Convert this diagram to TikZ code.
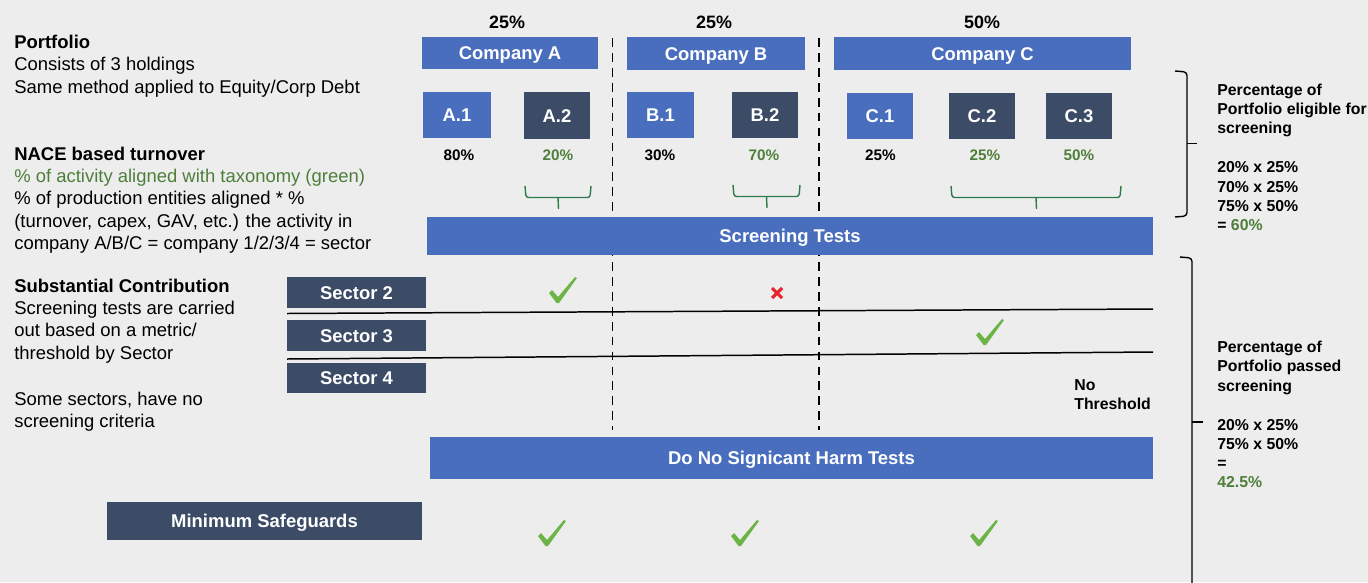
\documentclass[tikz,border=0pt]{standalone}
\usepackage{fontspec}
\setmainfont{Liberation Sans}
\definecolor{bg}{HTML}{EDEDED}
\definecolor{boxblue}{HTML}{4A6EBE}
\definecolor{boxdark}{HTML}{3C4B66}
\definecolor{txtgreen}{HTML}{4E7F3A}
\definecolor{bracegreen}{HTML}{2F7A4A}
\definecolor{tickgreen}{HTML}{6DB446}
\definecolor{crossred}{HTML}{E8232B}

\begin{document}
\begin{tikzpicture}[x=0.02cm,y=-0.02cm,
    wh/.style 2 args={minimum width=#1*0.02cm,minimum height=#2*0.02cm},
    bluebox/.style={fill=boxblue,text=white,inner sep=0pt,text height=7.5pt,text depth=0pt,
      font=\bfseries\fontsize{10.5}{12}\selectfont},
    darkbox/.style={bluebox,fill=boxdark},
    note/.style={anchor=north west,align=left,inner sep=0pt,font=\fontsize{10.5}{12.7}\selectfont},
    sidenote/.style={anchor=north west,align=left,inner sep=0pt,font=\bfseries\fontsize{9}{10.9}\selectfont},
    share/.style={font=\bfseries\fontsize{10.2}{12}\selectfont},
    pct/.style={font=\bfseries\fontsize{8.7}{10}\selectfont},
    divider/.style={line width=0.85pt,dash pattern=on 5pt off 3.5pt},
    gbrace/.style={bracegreen,line width=0.8pt,rounded corners=1.5pt},
    kbrace/.style={black,line width=0.8pt,rounded corners=2pt},
    pics/tick/.style={code={\fill[tickgreen] (-14,3) -- (-11,0) -- (-5,7) -- (12,-13) -- (14,-12) -- (-4,13) -- (-6.5,13) -- cycle;}},
    pics/cross/.style={code={\draw[crossred,line width=1.8pt] (-5,-5) -- (5,5) (-5,5) -- (5,-5);}}
  ]
  \useasboundingbox (0,0) rectangle (1368,582);
  \clip (0,0) rectangle (1368,582);
  \fill[bg] (0,0) rectangle (1368,582);

  \node[note] (port) at (14,34.7) {\textbf{Portfolio}\\Consists of 3 holdings\\Same method applied to Equity/Corp Debt};
  \node[note] (nace) at (14,146.4) {\textbf{NACE based turnover}\\\textcolor{txtgreen}{\% of activity aligned with taxonomy (green)}\\\% of production entities aligned * \%\\(turnover, capex, GAV, etc.) the activity in\\company A/B/C = company 1/2/3/4 = sector};
  \node[note] (subs) at (14,278.4) {\textbf{Substantial Contribution}\\Screening tests are carried\\out based on a metric/\\threshold by Sector};
  \node[note] (nocrit) at (14,391.4) {Some sectors, have no\\screening criteria};

  \draw[divider] (612.5,38) -- (612.5,430);
  \draw[divider] (819,38) -- (819,430);

  \node[share] (sa) at (507,22) {25\%};
  \node[share] (sb) at (714,22) {25\%};
  \node[share] (sc) at (982,22) {50\%};
  \node[bluebox,wh={176}{32}] (ca) at (510,53) {Company A};
  \node[bluebox,wh={178}{33}] (cb) at (716,53.5) {Company B};
  \node[bluebox,wh={297}{33}] (cc) at (982.5,53.5) {Company C};

  \node[bluebox,wh={68}{46}] (a1) at (457,115) {A.1};
  \node[darkbox,wh={66}{47}] (a2) at (557,115.5) {A.2};
  \node[bluebox,wh={67}{46}] (b1) at (660.5,115) {B.1};
  \node[darkbox,wh={66}{46}] (b2) at (765,115) {B.2};
  \node[bluebox,wh={66}{46}] (c1) at (880,115.5) {C.1};
  \node[darkbox,wh={66}{46}] (c2) at (982,115.5) {C.2};
  \node[darkbox,wh={66}{46}] (c3) at (1079,115.5) {C.3};

  \node[pct] (a1p) at (459,155) {80\%};
  \node[pct,txtgreen] (a2p) at (558,155) {20\%};
  \node[pct] (b1p) at (660,155) {30\%};
  \node[pct,txtgreen] (b2p) at (764,155) {70\%};
  \node[pct] (c1p) at (880.5,155) {25\%};
  \node[pct,txtgreen] (c2p) at (985,155) {25\%};
  \node[pct,txtgreen] (c3p) at (1079,155) {50\%};

  \draw[gbrace] (525,186) -- (526,197.5) -- (590,197.5) -- (591,186);
  \draw[gbrace] (558,197.5) -- (558.5,209);
  \draw[gbrace] (733,185) -- (734,196.5) -- (799,196.5) -- (800,185);
  \draw[gbrace] (766.5,196.5) -- (767,208);
  \draw[gbrace] (951,186) -- (952,197.5) -- (1120,197.5) -- (1121,186);
  \draw[gbrace] (1036,197.5) -- (1036.5,209);

  \node[bluebox,wh={726}{38}] (st) at (790,236) {Screening Tests};

  \node[darkbox,wh={139}{31}] (s2) at (356.5,292.5) {Sector 2};
  \node[darkbox,wh={139}{31}] (s3) at (356.5,335.5) {Sector 3};
  \node[darkbox,wh={139}{30}] (s4) at (356.5,378) {Sector 4};
  \draw[line width=0.85pt] (287,313.5) -- (1153,309);
  \draw[line width=0.85pt] (287,359) -- (1153,352);

  \pic at (563,290) {tick};
  \pic at (777,293) {cross};
  \pic at (990,332) {tick};
  \node[sidenote] (nothr) at (1074,379) {No\\Threshold};

  \node[bluebox,wh={723}{42}] (dn) at (791.5,458) {Do No Signicant Harm Tests};
  \node[darkbox,wh={315}{38}] (ms) at (264.5,521) {Minimum Safeguards};
  \pic at (552,533) {tick};
  \pic at (745,533) {tick};
  \pic at (984,533) {tick};

  \draw[kbrace] (1175,71) -- (1187,72) -- (1187,216) -- (1175,217);
  \draw[kbrace] (1187,143.5) -- (1197,143.5);
  \draw[kbrace] (1180,257) -- (1192,258) -- (1192,590);
  \draw[kbrace] (1192,422) -- (1203,422);
  \node[sidenote] (elig) at (1217,83.5) {Percentage of\\Portfolio eligible for\\screening\\[11.5pt]20\% x 25\%\\70\% x 25\%\\75\% x 50\%\\= \textcolor{txtgreen}{60\%}};
  \node[sidenote] (pass) at (1217,341) {Percentage of\\Portfolio passed\\screening\\[11.5pt]20\% x 25\%\\75\% x 50\%\\=\\\textcolor{txtgreen}{42.5\%}};
\end{tikzpicture}
\end{document}
